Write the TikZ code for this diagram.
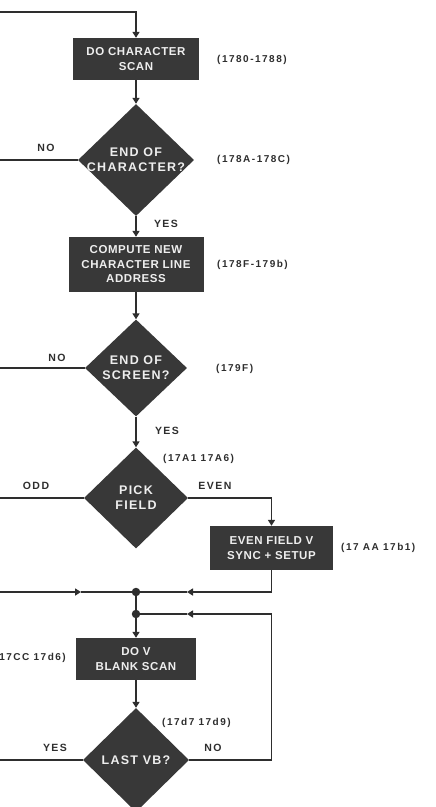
\documentclass[tikz,border=0pt]{standalone}
\usepackage{fontspec}
\setmainfont{Liberation Sans}
\usetikzlibrary{shapes.geometric,arrows.meta}
\definecolor{ink}{HTML}{2E2E2E}
\definecolor{boxfill}{HTML}{383838}
\definecolor{boxtext}{HTML}{EEEEEE}
\begin{document}
\begin{tikzpicture}[x=1pt,y=-1pt,
  conn/.style={draw=ink, line width=1.8pt},
  arr/.style={conn, -{Triangle[length=6pt,width=7pt]}},
  procbox/.style={rectangle, fill=boxfill, text=boxtext, align=center, inner sep=0pt,
    font=\bfseries\fontsize{11.5}{14.5}\selectfont\addfontfeatures{LetterSpace=5}},
  decbox/.style={diamond, fill=boxfill, inner sep=0pt},
  dtext/.style={text=boxtext, align=center, inner sep=0pt,
    font=\bfseries\fontsize{12.5}{15}\selectfont\addfontfeatures{LetterSpace=10}},
  addr/.style={text=ink, anchor=west, inner sep=0pt,
    font=\bfseries\fontsize{10}{12}\selectfont\addfontfeatures{LetterSpace=15}},
  lab/.style={text=ink, inner sep=0pt,
    font=\bfseries\fontsize{10.5}{12}\selectfont\addfontfeatures{LetterSpace=14}},
  jdot/.style={circle, fill=ink, minimum size=8.5pt, inner sep=0pt}]
\clip (0,0) rectangle (436,807);
\fill[white] (0,0) rectangle (436,807);

% process boxes
\node[procbox, minimum width=126pt, minimum height=42pt] (scan) at (136,59) {DO CHARACTER\\SCAN};
\node[procbox, minimum width=135pt, minimum height=55pt] (addrbox) at (136,264.5) {COMPUTE NEW\\CHARACTER LINE\\ADDRESS};
\node[procbox, minimum width=123pt, minimum height=44pt] (even) at (271.5,548) {EVEN FIELD V\\SYNC + SETUP};
\node[procbox, minimum width=120pt, minimum height=42pt] (vscan) at (136,659) {DO V\\BLANK SCAN};

% decisions
\node[decbox, minimum width=116pt, minimum height=112pt] (eoc) at (136,160) {};
\node[dtext] (eoct) at (eoc.center) {END OF\\CHARACTER?};
\node[decbox, minimum width=102pt, minimum height=97pt] (eos) at (136,368) {};
\node[dtext] (eost) at (eos.center) {END OF\\SCREEN?};
\node[decbox, minimum width=104pt, minimum height=101pt] (pick) at (136,498) {};
\node[dtext] (pickt) at (pick.center) {PICK\\FIELD};
\node[decbox, minimum width=106pt, minimum height=104pt] (lastvb) at (136,760) {};
\node[dtext] (lastvbt) at (lastvb.center) {LAST VB?};

% address labels
\node[addr] (a1) at (217,60) {(1780-1788)};
\node[addr] (a2) at (217,160) {(178A-178C)};
\node[addr] (a3) at (217,265) {(178F-179b)};
\node[addr] (a4) at (216,369) {(179F)};
\node[addr] (a5) at (163,459) {(17A1 17A6)};
\node[addr] (a6) at (341,548) {(17 AA 17b1)};
\node[addr, anchor=east] (a7) at (66,658) {17CC 17d6)};
\node[addr] (a8) at (162,723) {(17d7 17d9)};

% branch labels
\node[lab] (no1) at (46,148) {NO};
\node[lab] (yes1) at (166,224) {YES};
\node[lab] (no2) at (57,358) {NO};
\node[lab] (yes2) at (167,431) {YES};
\node[lab] (odd) at (36,486) {ODD};
\node[lab] (evenl) at (215,486) {EVEN};
\node[lab] (yes3) at (55,748) {YES};
\node[lab] (no3) at (213,748) {NO};

% junction dots
\node[jdot] (j1) at (136,592) {};
\node[jdot] (j2) at (136,614) {};

% free ends and bends
\coordinate (topL) at (0,12);
\coordinate (topR) at (136,12);
\coordinate (eocL) at (0,160);
\coordinate (eosL) at (0,368);
\coordinate (pickL) at (0,498);
\coordinate (vbL) at (0,760);
\coordinate (jL) at (0,592);
\coordinate (m1) at (81,592);
\coordinate (m2) at (187,592);
\coordinate (loopC) at (271.5,614);
\coordinate (m3) at (187,614);

% connectors
\draw[arr] (topL) -- (topR) -- (scan.north);
\draw[arr] (scan) -- (eoc);
\draw[conn] (eoc.west) -- (eocL);
\draw[arr] (eoc) -- (addrbox);
\draw[arr] (addrbox) -- (eos);
\draw[conn] (eos.west) -- (eosL);
\draw[arr] (eos) -- (pick);
\draw[conn] (pick.west) -- (pickL);
\draw[arr] (pick.east) -| (even.north);
\draw[arr] (even.south) |- (m2);
\draw[conn] (m2) -- (j1);
\draw[arr] (jL) -- (m1);
\draw[conn] (m1) -- (j1);
\draw[conn] (j1) -- (j2);
\draw[arr] (j2) -- (vscan);
\draw[arr] (vscan) -- (lastvb);
\draw[conn] (lastvb.west) -- (vbL);
\draw[arr] (lastvb.east) -| (loopC) -- (m3);
\draw[conn] (m3) -- (j2);
\end{tikzpicture}
\end{document}
